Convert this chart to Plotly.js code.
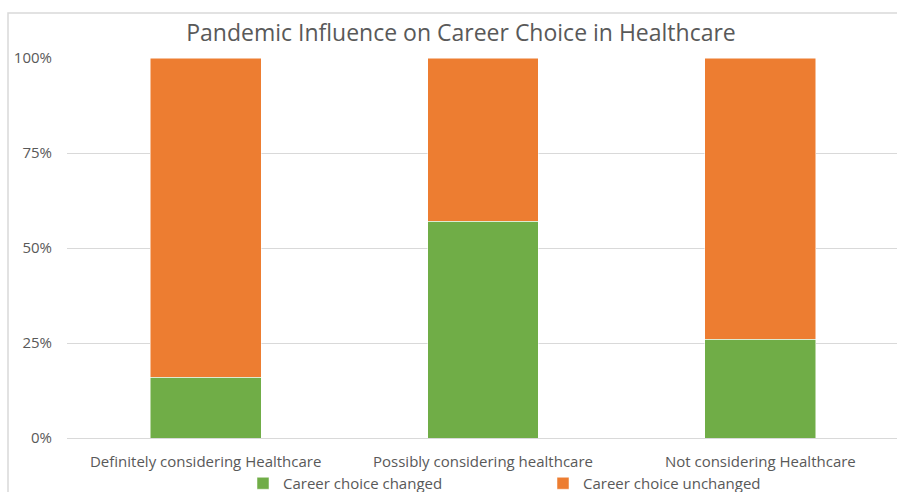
<!DOCTYPE html>
<html>
<head>
<meta charset="utf-8">
<script src="https://cdn.plot.ly/plotly-3.0.1.min.js"></script>
<style>
html,body{margin:0;padding:0;overflow:hidden;background:#fff;}
#chart{width:910px;height:540px;}
</style>
</head>
<body>
<div id="chart"></div>
<script>
const categories = ["Definitely considering Healthcare", "Possibly considering healthcare", "Not considering Healthcare"];
const changed = [16, 57, 26];
const unchanged = [84, 43, 74];
const seriesNames = ["Career choice changed", "Career choice unchanged"];
const tickVals = [0, 25, 50, 75, 100];
const tickText = ["0%", "25%", "50%", "75%", "100%"];

const W = 910, H = 540;
const L = 67, R = 11, T = 58, B = H - 438;
const plotW = W - L - R, plotH = H - T - B;

const font = "'Open Sans', 'Noto Sans', sans-serif";

const traces = [
  {type: 'bar', name: seriesNames[0], x: categories, y: changed,
   marker: {color: '#70ad47', line: {color: '#ffffff', width: 0.5}}, hoverinfo: 'skip'},
  {type: 'bar', name: seriesNames[1], x: categories, y: unchanged,
   marker: {color: '#ed7d31', line: {color: '#ffffff', width: 0.5}}, hoverinfo: 'skip'}
];

const layout = {
  width: W, height: H,
  margin: {l: L, r: R, t: T, b: B, pad: 0, autoexpand: false},
  paper_bgcolor: '#ffffff', plot_bgcolor: '#ffffff',
  barmode: 'stack', bargap: 0.6,
  title: {text: 'Pandemic Influence on Career Choice in Healthcare',
          font: {family: font, size: 23, color: '#595959'},
          xref: 'container', x: 461 / W, xanchor: 'center',
          yref: 'container', y: 1 - 33 / H, yanchor: 'middle'},
  xaxis: {type: 'category', showgrid: false, zeroline: false, showline: false, ticks: '',
          tickfont: {family: font, size: 15, color: '#595959'}, ticklabelstandoff: 13, automargin: false},
  yaxis: {range: [0, 100], tickmode: 'array', tickvals: tickVals, ticktext: tickText, showgrid: true,
          gridcolor: '#d9d9d9', gridwidth: 1, zeroline: true, zerolinecolor: '#d9d9d9', zerolinewidth: 1,
          showline: false, ticks: '', tickfont: {family: font, size: 15, color: '#595959'},
          ticklabelstandoff: 14, fixedrange: true, automargin: false},
  showlegend: true,
  legend: {orientation: 'h', x: (483 + 60 - L) / plotW, xanchor: 'center', y: -(467 - 438) / plotH, yanchor: 'top',
           font: {family: font, size: 15, color: '#595959'}, itemwidth: 30, traceorder: 'normal',
           entrywidth: 255, entrywidthmode: 'pixels', bgcolor: 'rgba(0,0,0,0)'},
  shapes: [{type: 'rect', xref: 'paper', yref: 'paper',
            x0: (8 - L) / plotW, x1: 1.2, y0: -0.5, y1: (438 - 13) / plotH,
            line: {color: '#d9d9d9', width: 1.5}, fillcolor: 'rgba(0,0,0,0)', layer: 'below'}]
};

Plotly.newPlot('chart', traces, layout, {displayModeBar: false, staticPlot: true});
</script>
</body>
</html>
